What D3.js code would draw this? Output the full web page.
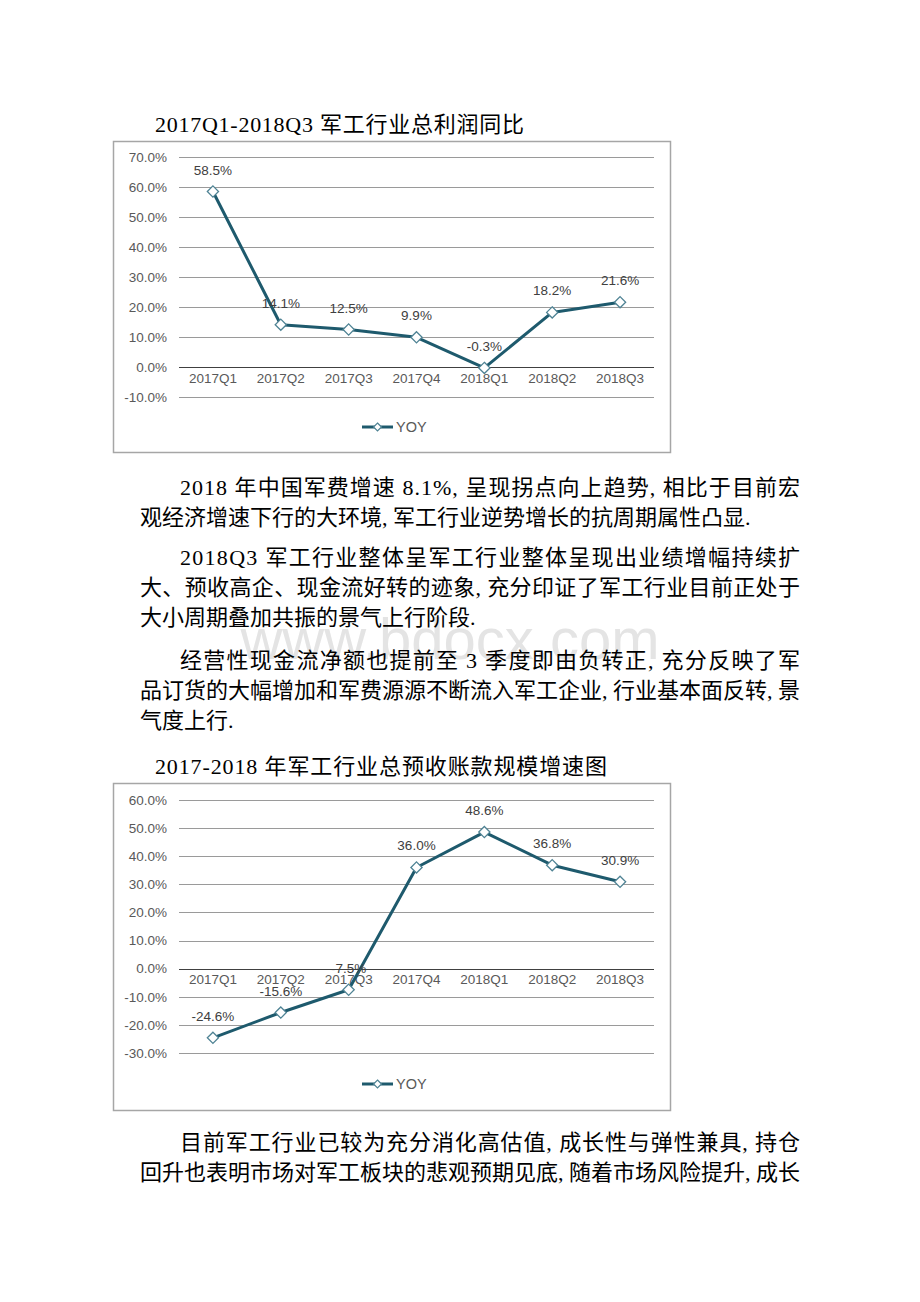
<!DOCTYPE html>
<html><head><meta charset="utf-8">
<script src="https://cdn.jsdelivr.net/npm/d3@7"></script>
<style>
html,body{margin:0;padding:0;background:#fff;}
svg{display:block;}
</style></head>
<body>
<svg id="page" width="920" height="1302"></svg>
<script>
// ---- data ----
const categories = ["2017Q1","2017Q2","2017Q3","2017Q4","2018Q1","2018Q2","2018Q3"];
const profitYoY = [58.5, 14.1, 12.5, 9.9, -0.3, 18.2, 21.6];
const profitTicks = [-10, 0, 10, 20, 30, 40, 50, 60, 70];
const advanceYoY = [-24.6, -15.6, -7.5, 36.0, 48.6, 36.8, 30.9];
const advanceTicks = [-30, -20, -10, 0, 10, 20, 30, 40, 50, 60];
const seriesName = "YOY";
const title1 = "2017Q1-2018Q3 军工行业总利润同比";
const title2 = "2017-2018 年军工行业总预收账款规模增速图";
const paragraphs = [
  ["2018 年中国军费增速 8.1%, 呈现拐点向上趋势, 相比于目前宏", "观经济增速下行的大环境, 军工行业逆势增长的抗周期属性凸显."],
  ["2018Q3 军工行业整体呈军工行业整体呈现出业绩增幅持续扩", "大、预收高企、现金流好转的迹象, 充分印证了军工行业目前正处于", "大小周期叠加共振的景气上行阶段."],
  ["经营性现金流净额也提前至 3 季度即由负转正, 充分反映了军", "品订货的大幅增加和军费源源不断流入军工企业, 行业基本面反转, 景", "气度上行."],
  ["目前军工行业已较为充分消化高估值, 成长性与弹性兼具, 持仓", "回升也表明市场对军工板块的悲观预期见底, 随着市场风险提升, 成长"]
];

const svg = d3.select("#page");
svg.append("rect").attr("width",920).attr("height",1302).attr("fill","#fff");

const textFont = "'Liberation Serif','Times New Roman','Noto Sans CJK SC',serif";
const chartFont = "'Liberation Sans',Arial,sans-serif";

// watermark
svg.append("text").attr("x",450).attr("y",659).attr("text-anchor","middle")
  .attr("font-family",chartFont).attr("font-size",58).attr("fill","#e4e4e4")
  .text("www.bdocx.com");

// body text
function line(txt, x, y, endX){
  const t = svg.append("text").attr("x",x).attr("y",y)
    .attr("font-family",textFont).attr("font-size",22).attr("fill","#000").text(txt);
  if(endX){ t.attr("textLength", endX-x).attr("lengthAdjust","spacing"); }
}
line(title1, 155, 132, 524);
const pStarts = [[495,525],[565,595,625],[668,698,728],[1150,1180]];
paragraphs.forEach((p,pi)=>{
  p.forEach((txt,li)=>{
    const x = li===0 ? 180 : 140;
    const last = li===p.length-1 && pi!==3;
    line(txt, x, pStarts[pi][li], last ? null : 800);
  });
});
line(title2, 155, 774, 607);

// chart drawer
function drawChart(opt){
  const g = svg.append("g");
  g.append("rect").attr("x",opt.box[0]+0.5).attr("y",opt.box[1]+0.5)
    .attr("width",opt.box[2]).attr("height",opt.box[3])
    .attr("fill","#fff").attr("stroke","#a6a6a6").attr("stroke-width",1.5);
  const x = d3.scaleBand().domain(categories).range([179,654]);
  const cx = c => x(c) + x.bandwidth()/2;
  const y = d3.scaleLinear().domain(opt.domain).range(opt.range);
  // gridlines
  g.selectAll("line.grid").data(opt.ticks).join("line")
    .attr("x1",179).attr("x2",654)
    .attr("y1",d=>Math.round(y(d))+0.5).attr("y2",d=>Math.round(y(d))+0.5)
    .attr("stroke",d=>d===0?"#404040":"#9a9a9a").attr("stroke-width",1);
  // y labels
  const yAxis = d3.axisLeft(y).tickValues(opt.ticks).tickFormat(d=>d.toFixed(1)+"%").tickSize(0).tickPadding(0);
  const ya = g.append("g").attr("transform","translate(167,0)").call(yAxis);
  ya.select(".domain").remove();
  ya.selectAll("text").attr("font-family",chartFont).attr("font-size",13.5).attr("fill","#595959");
  // x labels at zero line
  const xAxis = d3.axisBottom(x).tickSize(0).tickPadding(0);
  const xa = g.append("g").attr("transform",`translate(0,${y(0)+6})`).call(xAxis);
  xa.select(".domain").remove();
  xa.selectAll("text").attr("font-family",chartFont).attr("font-size",13.5).attr("fill","#595959");
  // line
  const lineGen = d3.line().x((d,i)=>cx(categories[i])).y(d=>y(d));
  g.append("path").datum(opt.values).attr("d",lineGen)
    .attr("fill","none").attr("stroke","#1e5a6d").attr("stroke-width",3).attr("stroke-linejoin","round");
  const diamond = d3.symbol().type(d3.symbolDiamond2).size(80);
  g.selectAll("path.mk").data(opt.values).join("path")
    .attr("transform",(d,i)=>`translate(${cx(categories[i])},${y(d)})`)
    .attr("d",diamond).attr("fill","#fff").attr("stroke","#4f8394").attr("stroke-width",1.3);
  // data labels
  g.selectAll("text.lbl").data(opt.values).join("text")
    .attr("x",(d,i)=>cx(categories[i])).attr("y",d=>y(d)-17)
    .attr("text-anchor","middle").attr("font-family",chartFont).attr("font-size",13.5).attr("fill","#404040")
    .text(d=>d.toFixed(1)+"%");
  // legend
  const ly = opt.legendY;
  g.append("line").attr("x1",362).attr("x2",393).attr("y1",ly).attr("y2",ly)
    .attr("stroke","#1e5a6d").attr("stroke-width",3);
  g.append("path").attr("transform",`translate(377.5,${ly})`).attr("d",d3.symbol().type(d3.symbolDiamond2).size(40))
    .attr("fill","#fff").attr("stroke","#4f8394").attr("stroke-width",1.2);
  g.append("text").attr("x",396).attr("y",ly+5).attr("font-family",chartFont).attr("font-size",14.5).attr("fill","#595959").text(seriesName);
}

drawChart({box:[113,141,557,311], domain:[-10,70], range:[397,157], ticks:profitTicks, values:profitYoY, legendY:427});
drawChart({box:[113,783,557,327], domain:[-30,60], range:[1053,800], ticks:advanceTicks, values:advanceYoY, legendY:1084});
</script>
</body></html>
